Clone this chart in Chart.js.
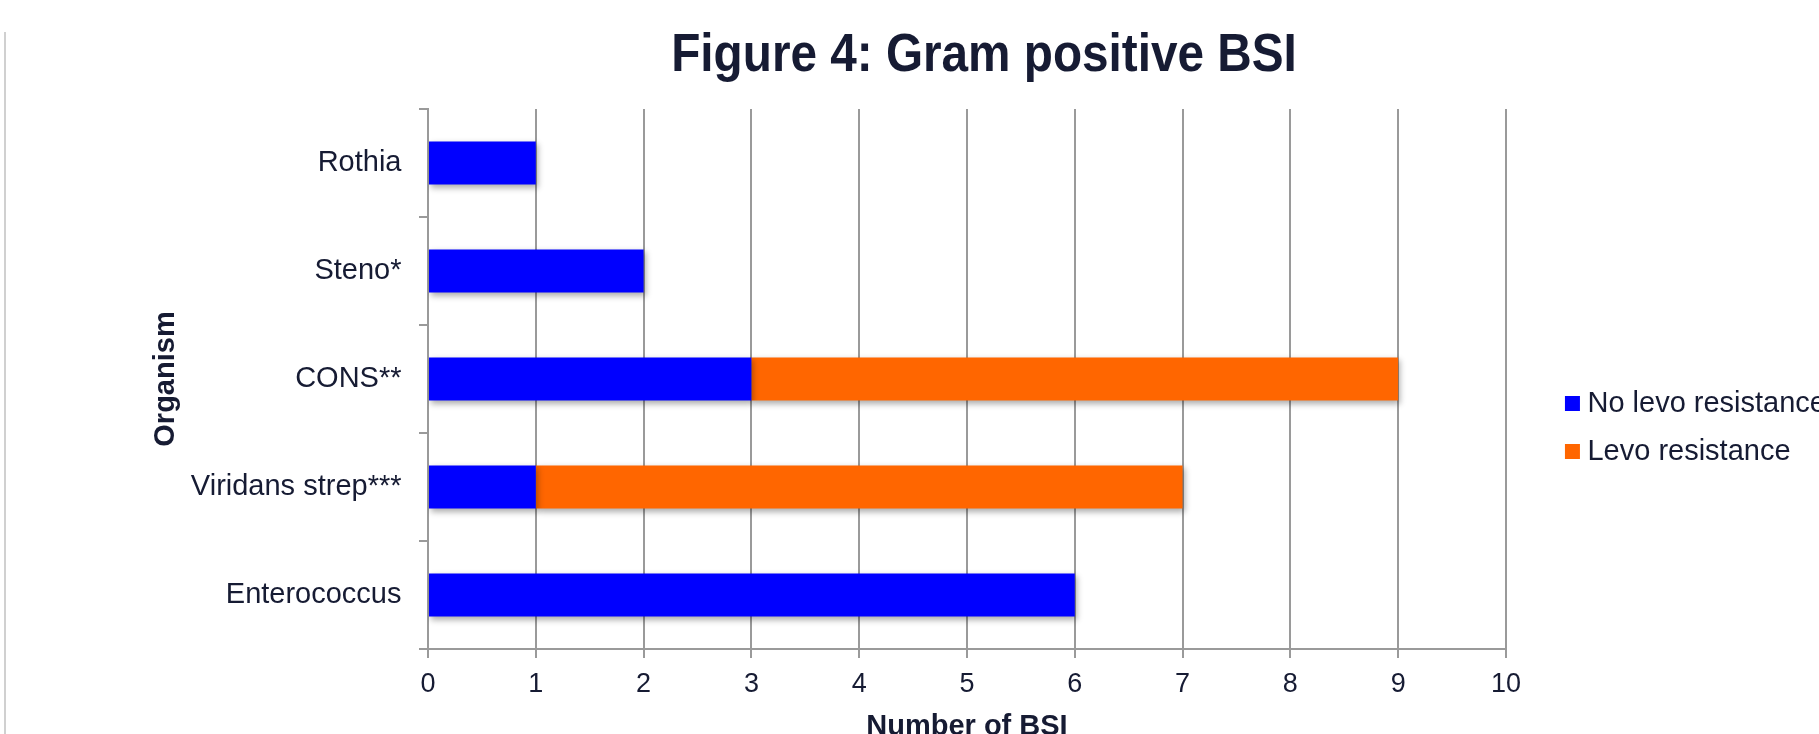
<!DOCTYPE html>
<html>
<head>
<meta charset="utf-8">
<title>Figure 4: Gram positive BSI</title>
<script src="https://cdn.jsdelivr.net/npm/chart.js@4.4.1/dist/chart.umd.min.js"></script>
<style>
  html, body { margin: 0; padding: 0; background: #ffffff; overflow: hidden; }
  #frame { position: relative; width: 1819px; height: 734px; overflow: hidden; }
  #edge { position: absolute; left: 4px; top: 32px; bottom: 0; width: 2px; background: #d0d0d0; }
  #chart { position: absolute; left: 0; top: 0; }
</style>
</head>
<body>
<div id="frame">
  <div id="edge"></div>
  <canvas id="chart" width="1836" height="734" style="width:1836px;height:734px"></canvas>
</div>
<script>
// Organisms, listed top to bottom
const categories = ['Rothia', 'Steno*', 'CONS**', 'Viridans strep***', 'Enterococcus'];

// Number of bloodstream infections per organism
const noLevoResistance = [1, 2, 3, 1, 6];
const levoResistance   = [0, 0, 6, 6, 0];

const seriesNames = ['No levo resistance', 'Levo resistance'];
const seriesColors = ['#0000ff', '#ff6600'];

// Value axis ticks
const xMin = 0;
const xMax = 10;
const xStep = 1;

const textColor = '#161b33';
const lineColor = '#9a9a9a';

Chart.defaults.font.family = "'Liberation Sans', Arial, sans-serif";
Chart.defaults.color = textColor;

// soft drop shadow under the bars
const barShadow = {
  id: 'barShadow',
  beforeDatasetsDraw(chart) {
    const c = chart.ctx;
    c.save();
    c.shadowColor = 'rgba(0,0,0,0.32)';
    c.shadowBlur = 6;
    c.shadowOffsetX = 2;
    c.shadowOffsetY = 3;
  },
  afterDatasetsDraw(chart) {
    chart.ctx.restore();
  }
};

// draws the chart title in a condensed width
const condensedTitle = {
  id: 'condensedTitle',
  afterInit(chart) {
    const block = chart.titleBlock;
    if (!block) return;
    const draw = block.draw.bind(block);
    block.draw = function () {
      const ctx = this.ctx;
      const cx = (this.left + this.right) / 2;
      ctx.save();
      ctx.translate(cx, 0);
      ctx.scale(0.9, 1);
      ctx.translate(-cx, 0);
      draw();
      ctx.restore();
    };
  }
};

new Chart(document.getElementById('chart'), {
  type: 'bar',
  data: {
    labels: categories,
    datasets: [
      { label: seriesNames[0], data: noLevoResistance, backgroundColor: seriesColors[0], borderWidth: 0 },
      { label: seriesNames[1], data: levoResistance, backgroundColor: seriesColors[1], borderWidth: 0 }
    ]
  },
  options: {
    indexAxis: 'y',
    responsive: false,
    animation: false,
    devicePixelRatio: 1,
    categoryPercentage: 1.0,
    barPercentage: 0.4,
    layout: { padding: { left: 132, right: 0, top: 0, bottom: 0 } },
    scales: {
      x: {
        stacked: true,
        min: xMin,
        max: xMax,
        ticks: { stepSize: xStep, padding: 10, font: { size: 27 }, color: textColor },
        grid: { color: lineColor, lineWidth: 2, tickLength: 9, drawTicks: true },
        border: { display: true, color: lineColor, width: 2 },
        title: {
          display: true,
          text: 'Number of BSI',
          font: { size: 29, weight: 'bold' },
          color: textColor,
          padding: { top: 0, bottom: -10 }
        },
        afterFit(scale) { scale.height = 85; }
      },
      y: {
        stacked: true,
        ticks: { padding: 17.5, font: { size: 29 }, color: textColor },
        grid: { drawOnChartArea: false, drawTicks: true, tickLength: 9, color: lineColor, lineWidth: 2, offset: true },
        border: { display: true, color: lineColor, width: 2 },
        title: {
          display: true,
          text: 'Organism',
          font: { size: 29, weight: 'bold' },
          color: textColor,
          padding: { top: 16.6, bottom: 0 }
        },
        afterFit(scale) { scale.width = 296; }
      },
      // empty gap between the plot and the legend
      gap: {
        type: 'linear',
        position: 'right',
        display: true,
        ticks: { display: false },
        grid: { display: false },
        border: { display: false },
        afterFit(scale) { scale.width = 47; }
      }
    },
    plugins: {
      title: {
        display: true,
        text: 'Figure 4: Gram positive BSI',
        font: { size: 53, weight: 'bold' },
        color: textColor,
        padding: { top: 25, bottom: 20.4 }
      },
      legend: {
        display: true,
        position: 'right',
        align: 'center',
        title: { display: true, text: ' ', font: { size: 10 }, padding: { top: 54.5, bottom: 54.5 } },
        labels: {
          usePointStyle: true,
          pointStyle: 'rect',
          boxWidth: 1,
          boxHeight: 15,
          padding: 19,
          font: { size: 29 },
          color: textColor
        }
      },
      tooltip: { enabled: false }
    }
  },
  plugins: [barShadow, condensedTitle]
});
</script>
</body>
</html>
